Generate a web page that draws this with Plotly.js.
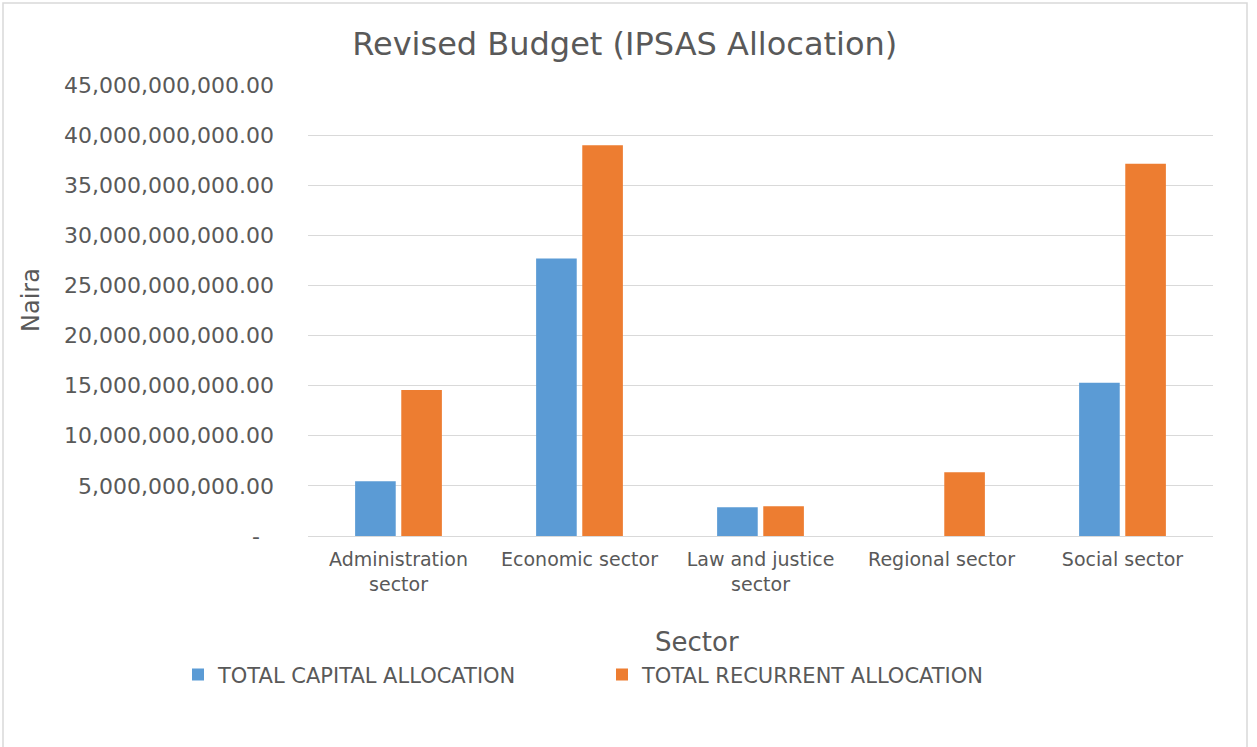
<!DOCTYPE html>
<html>
<head>
<meta charset="utf-8">
<script src="https://cdn.plot.ly/plotly-3.0.1.min.js"></script>
<style>
  html, body { margin: 0; padding: 0; background: #ffffff; }
  #chart { width: 1257px; height: 747px; }
</style>
</head>
<body>
<div id="chart"></div>
<script>
// ---- Data ----
const sectors = ["Administration<br>sector", "Economic sector", "Law and justice<br>sector", "Regional sector", "Social sector"];
const capitalAllocation = [5.46e9, 27.68e9, 2.86e9, 0, 15.30e9];
const recurrentAllocation = [14.57e9, 38.99e9, 2.96e9, 6.36e9, 37.13e9];
const yTickValues = [0, 5e9, 10e9, 15e9, 20e9, 25e9, 30e9, 35e9, 40e9, 45e9];
const yTickLabels = ["-\u00a0\u00a0", "5,000,000,000.00", "10,000,000,000.00", "15,000,000,000.00",
  "20,000,000,000.00", "25,000,000,000.00", "30,000,000,000.00", "35,000,000,000.00",
  "40,000,000,000.00", "45,000,000,000.00"];
const seriesNames = ["TOTAL CAPITAL ALLOCATION", "TOTAL RECURRENT ALLOCATION"];
const chartTitle = "Revised Budget (IPSAS Allocation)";
const xTitle = "Sector";
const yTitle = "Naira";

const FONT = "DejaVu Sans, Verdana, sans-serif";
const TXT = "#595959";

const traces = [
  { type: "bar", name: seriesNames[0], x: sectors, y: capitalAllocation,
    marker: { color: "#5B9BD5" }, hoverinfo: "skip" },
  { type: "bar", name: seriesNames[1], x: sectors, y: recurrentAllocation,
    marker: { color: "#ED7D31" }, hoverinfo: "skip" }
];

const layout = {
  width: 1257, height: 747,
  margin: { l: 308, r: 44, t: 85, b: 211, pad: 0 },
  paper_bgcolor: "#ffffff", plot_bgcolor: "#ffffff",
  font: { family: FONT, color: TXT },
  barmode: "group", bargap: 0.49, bargroupgap: 0.12,
  showlegend: true,
  title: { text: chartTitle, xref: "container", x: 0.497, xanchor: "center",
    yref: "container", y: 0.942, yanchor: "middle",
    font: { family: FONT, size: 32, color: TXT } },
  xaxis: {
    type: "category", showgrid: false, showline: false, zeroline: false, ticks: "",
    automargin: false,
    tickfont: { family: FONT, size: 19, color: TXT }, ticklabelstandoff: 10
  },
  yaxis: {
    range: [0, 45e9], autorange: false, tickmode: "array", automargin: false,
    tickvals: yTickValues, ticktext: yTickLabels,
    showgrid: true, gridcolor: "#D9D9D9", gridwidth: 1,
    zeroline: true, zerolinecolor: "#D9D9D9", zerolinewidth: 1,
    showline: false, ticks: "",
    tickfont: { family: FONT, size: 22, color: TXT }, ticklabelstandoff: 33
  },
  annotations: [
    { text: xTitle, xref: "paper", yref: "paper", x: (697 - 308) / 905, y: (536 - 642) / 451,
      xanchor: "center", yanchor: "middle", showarrow: false,
      font: { family: FONT, size: 26, color: TXT } },
    { text: yTitle, xref: "paper", yref: "paper", x: (31 - 308) / 905, y: (536 - 300) / 451,
      xanchor: "center", yanchor: "middle", showarrow: false, textangle: -90,
      font: { family: FONT, size: 24, color: TXT } }
  ],
  legend: {
    orientation: "h", x: (178 - 308) / 905, xanchor: "left", y: -0.308, yanchor: "middle",
    font: { family: FONT, size: 21, color: TXT }, bgcolor: "rgba(0,0,0,0)",
    traceorder: "normal", entrywidth: 379, entrywidthmode: "pixels", itemwidth: 30
  },
  shapes: [{
    type: "rect", xref: "paper", yref: "paper", layer: "below",
    x0: (3 - 308) / 905, x1: (1247 - 308) / 905,
    y0: (536 - 760) / 451, y1: (536 - 3) / 451,
    line: { color: "#D9D9D9", width: 1.5 }, fillcolor: "rgba(0,0,0,0)"
  }]
};

Plotly.newPlot("chart", traces, layout, { displayModeBar: false, staticPlot: true });
</script>
</body>
</html>
